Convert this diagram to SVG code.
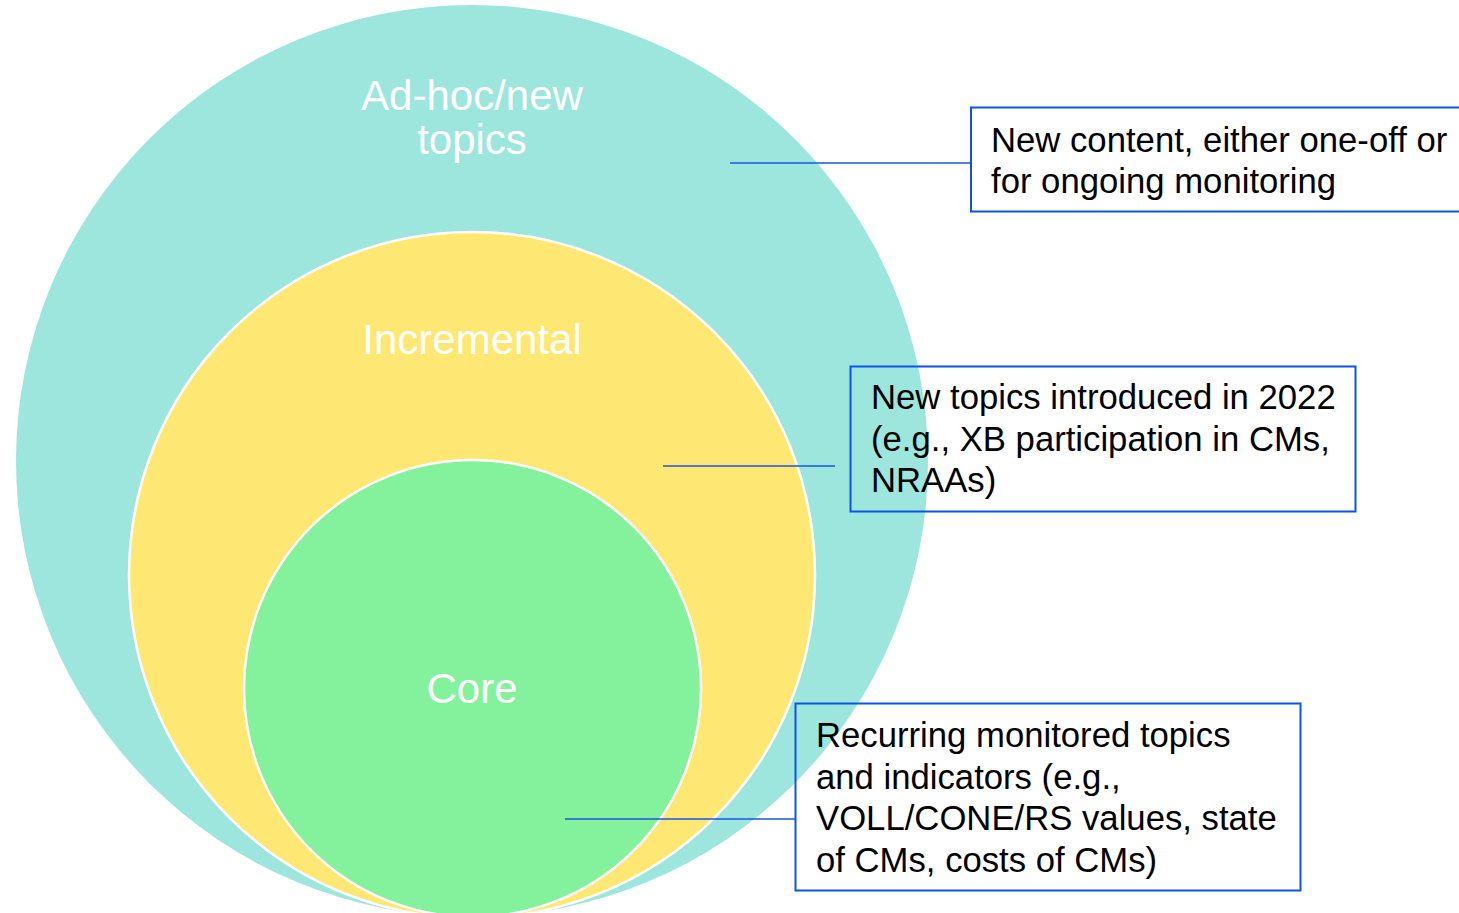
<svg xmlns="http://www.w3.org/2000/svg" width="1459" height="913" viewBox="0 0 1459 913">
<style>
.lbl{font-family:"Liberation Sans",Arial,sans-serif;font-size:42px;fill:#ffffff;text-anchor:middle}
.txt{font-family:"Liberation Sans",Arial,sans-serif;font-size:34.7px;fill:#000000}
.box{fill:none;stroke:#0d52ee;stroke-width:2}
.conn{stroke:#1a56e0;stroke-width:1.5;fill:none}
</style>
<rect width="1459" height="913" fill="#ffffff"/>
<g id="adhoc">
<circle cx="472" cy="461" r="456" fill="#9de6de"/>
<text class="lbl" x="472" y="110">Ad-hoc/new</text>
<text class="lbl" x="472" y="154">topics</text>
</g>
<g id="incremental">
<circle cx="472" cy="575" r="343" fill="#fee873" stroke="#ffffff" stroke-width="2.5"/>
<text class="lbl" x="472" y="354">Incremental</text>
</g>
<g id="core">
<circle cx="472.5" cy="688.5" r="228.5" fill="#84f29c" stroke="#ffffff" stroke-width="2.5"/>
<text class="lbl" x="472" y="703">Core</text>
</g>
<g id="connectors">
<line class="conn" x1="730" y1="163" x2="971" y2="163"/>
<line class="conn" x1="663" y1="466" x2="835" y2="466"/>
<line class="conn" x1="565" y1="819" x2="795" y2="819"/>
</g>
<g id="note1">
<rect x="971" y="107.5" width="500" height="104" fill="#ffffff" stroke="#0d52ee" stroke-width="2"/>
<text class="txt" x="991" y="152">New content, either one-off or</text>
<text class="txt" x="991" y="193">for ongoing monitoring</text>
</g>
<g id="note2">
<rect class="box" x="850.5" y="366.5" width="505" height="145"/>
<text class="txt" x="871" y="409">New topics introduced in 2022</text>
<text class="txt" x="871" y="451">(e.g., XB participation in CMs,</text>
<text class="txt" x="871" y="492">NRAAs)</text>
</g>
<g id="note3">
<rect class="box" x="795.5" y="703.5" width="505" height="187"/>
<text class="txt" x="816" y="747">Recurring monitored topics</text>
<text class="txt" x="816" y="789">and indicators (e.g.,</text>
<text class="txt" x="816" y="830">VOLL/CONE/RS values, state</text>
<text class="txt" x="816" y="872">of CMs, costs of CMs)</text>
</g>
</svg>
